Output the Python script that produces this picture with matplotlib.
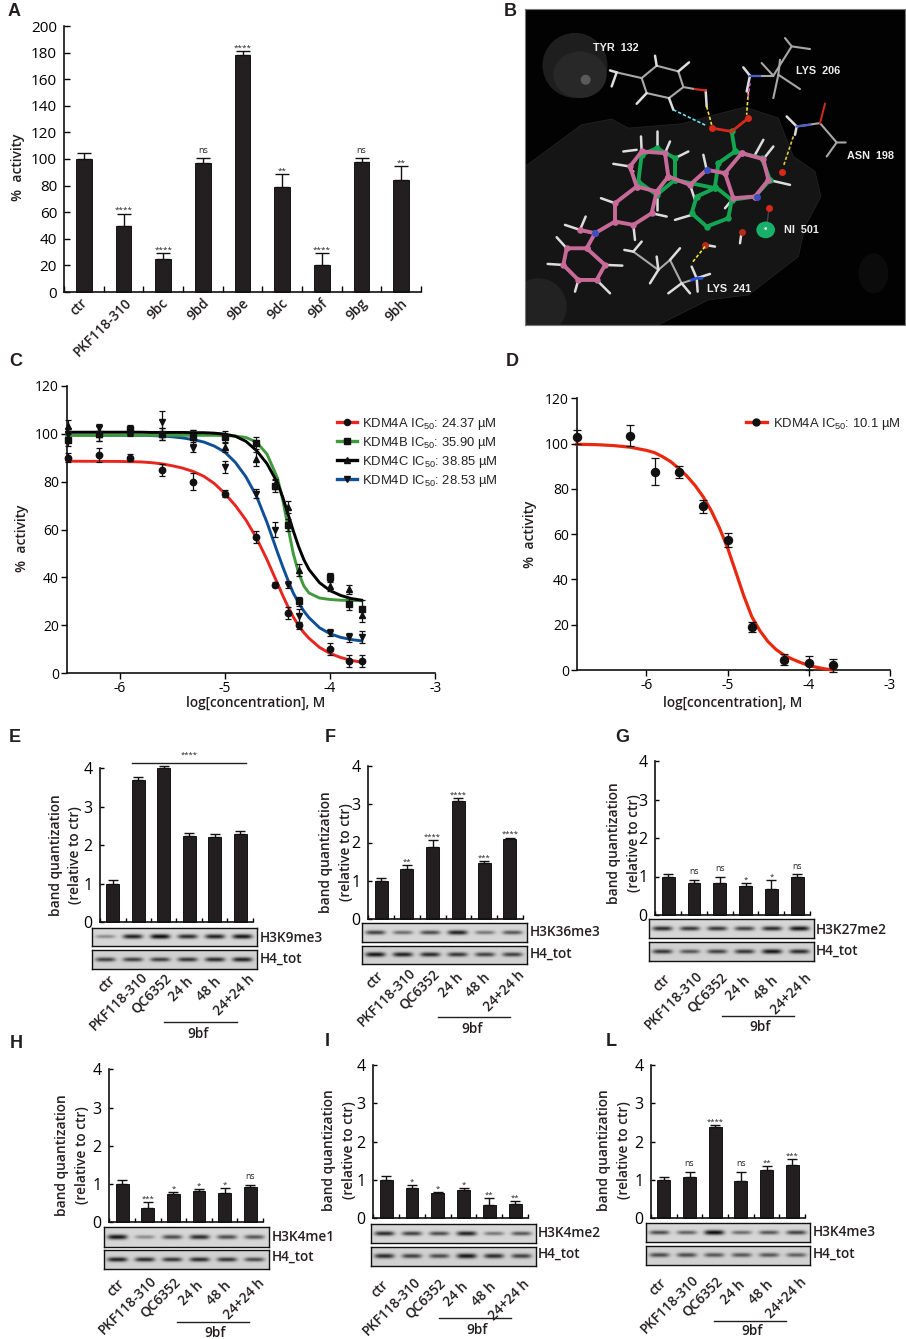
import matplotlib
matplotlib.use('Agg')
import matplotlib.pyplot as plt
import numpy as np
from matplotlib.lines import Line2D
from matplotlib.patches import Ellipse, Polygon

W, H = 906, 1339
plt.rcParams['font.family'] = ['Open Sans', 'DejaVu Sans']
plt.rcParams['font.weight'] = 'medium'
plt.rcParams['mathtext.fontset'] = 'custom'
plt.rcParams['mathtext.rm'] = 'Liberation Sans'
plt.rcParams['mathtext.default'] = 'rm'
plt.rcParams['text.color'] = '#231f20'

# panel A
a_names = ['ctr', 'PKF118-310', '9bc', '9bd', '9be', '9dc', '9bf', '9bg', '9bh']
a_vals = [100, 50, 25, 97, 178, 79, 20, 98, 84]
a_errs = [4.5, 9, 4, 3.5, 3.5, 10, 9, 2.5, 11]
a_sig = ['', '****', '****', 'ns', '****', '**', '****', 'ns', '**']

# panel C, points
c_x = [-6.49, -6.2, -5.9, -5.6, -5.3, -5.0, -4.7, -4.52, -4.4, -4.3, -4.0, -3.82, -3.7]
kdm4a_y = [90, 91, 90, 85, 80, 75, 57, 37, 25, 20, 10, 5, 5]
kdm4a_e = [2, 3, 1.5, 2.5, 3.5, 1.5, 2.5, 1, 2.5, 1.5, 2.5, 2.5, 2.5]
kdm4b_y = [97.5, 100, 102, 100, 98.5, 98.5, 96, 78, 62, 30, 40, 29, 27]
kdm4b_e = [2.5, 3, 1.5, 2.5, 3, 2.5, 2.5, 2.5, 2.5, 2, 2, 2.5, 3.5]
kdm4c_y = [103, 100, 101, 100, 99, 94.5, 89.5, 79, 69.5, 43, 36.5, 35, 24.5]
kdm4c_e = [2.5, 3, 1.5, 2.5, 2.5, 2, 3, 2, 2.5, 2.5, 2, 2, 3]
kdm4d_y = [100, 102.5, 100.5, 105, 94, 86, 75, 60, 37, 24, 17, 15, 15]
kdm4d_e = [2.5, 1.5, 1.5, 4.5, 1.5, 2.5, 2, 3, 1.5, 3, 1.5, 2, 2.5]

# panel C, fitted curves
fit_x = [-6.5, -6.0, -5.8, -5.7, -5.6, -5.5, -5.4, -5.3, -5.2, -5.1, -5.0, -4.9, -4.8, -4.7, -4.6,
         -4.5, -4.45, -4.4, -4.35, -4.3, -4.25, -4.2, -4.1, -4.0, -3.9, -3.8, -3.7]
fit_a = [88.5, 88.4, 88.2, 87.9, 87.4, 86.6, 85.6, 84.2, 82.2, 79.2, 75, 70, 64, 56.5, 47.5,
         37.5, 32.5, 27.8, 23.5, 20, 17, 14.6, 10.8, 8.3, 6.6, 5.4, 4.6]
fit_b = [99.3, 99.3, 99.3, 99.3, 99.3, 99.3, 99.3, 99.3, 99.3, 99.3, 99.2, 99, 98.4, 96.5, 91.5,
         81.5, 72.5, 61, 50, 42, 36.5, 33.5, 31.4, 30.8, 30.5, 30.4, 30.3]
fit_c = [100.6, 100.6, 100.6, 100.5, 100.5, 100.5, 100.5, 100.4, 100.4, 100.2, 99.8, 98.9, 96.8, 93, 87.5,
         79.5, 73.5, 66.5, 59.5, 53, 47.5, 43.3, 37.8, 34.5, 32.5, 31.2, 30.5]
fit_d = [99.4, 99.3, 99.3, 99.2, 99, 98.7, 98.2, 97.5, 96.5, 94.8, 92.3, 88, 82, 74, 63,
         50.5, 44.5, 38.8, 33.5, 29.5, 26, 23.2, 19, 16.5, 15, 14.1, 13.5]

# panel D
d_x = [-6.86, -6.2, -5.9, -5.6, -5.3, -5.0, -4.7, -4.3, -4.0, -3.7]
d_y = [103, 103.5, 87.5, 87.5, 72.3, 57.5, 19, 4.5, 3, 2]
d_e = [3, 4.5, 6, 2.5, 2.8, 3.2, 2.2, 2.5, 3, 3]
d_fit_x = [-6.86, -6.6, -6.4, -6.2, -6.0, -5.9, -5.8, -5.7, -5.6, -5.5, -5.4, -5.3, -5.2, -5.1,
           -5.0, -4.9, -4.8, -4.7, -4.6, -4.5, -4.4, -4.3, -4.2, -4.1, -4.0, -3.9, -3.8, -3.7]
d_fit_y = [99.7, 99.5, 99.1, 98.4, 97, 96, 94.2, 92, 89, 85.6, 81.5, 76.5, 70.3, 62.8,
           54, 43.5, 32.8, 23.5, 17.3, 12.5, 9, 6.5, 4.8, 3.3, 2, 1.2, 0.5, 0]

# western blot panels
wb_names = ['ctr', 'PKF118-310', 'QC6352', '24 h', '48 h', '24+24 h']

e_vals = [1.0, 3.7, 4.02, 2.24, 2.22, 2.3]
e_errs = [0.1, 0.08, 0.03, 0.09, 0.07, 0.07]
e_sig = ['', '', '', '', '', '']
e_bands = [0.35, 0.85, 0.95, 0.8, 0.85, 0.9]
e_h4 = [0.7, 0.7, 0.7, 0.75, 0.8, 0.85]

f_vals = [1.0, 1.3, 1.87, 3.08, 1.46, 2.08]
f_errs = [0.07, 0.12, 0.2, 0.07, 0.07, 0.05]
f_sig = ['', '**', '****', '****', '***', '****']
f_bands = [0.7, 0.5, 0.65, 0.85, 0.45, 0.6]
f_h4 = [0.9, 0.85, 0.8, 0.75, 0.7, 0.7]

g_vals = [1.0, 0.84, 0.82, 0.75, 0.68, 1.0]
g_errs = [0.06, 0.08, 0.17, 0.08, 0.24, 0.06]
g_sig = ['', 'ns', 'ns', '*', '*', 'ns']
g_bands = [0.8, 0.75, 0.75, 0.7, 0.8, 0.9]
g_h4 = [0.75, 0.6, 0.7, 0.75, 0.9, 0.8]

h_vals = [1.0, 0.38, 0.73, 0.82, 0.77, 0.92]
h_errs = [0.1, 0.16, 0.07, 0.04, 0.12, 0.06]
h_sig = ['', '***', '*', '*', '*', 'ns']
h_bands = [0.9, 0.35, 0.65, 0.8, 0.65, 0.6]
h_h4 = [0.85, 0.8, 0.75, 0.8, 0.75, 0.65]

i_vals = [1.0, 0.78, 0.66, 0.74, 0.35, 0.38]
i_errs = [0.1, 0.08, 0.03, 0.06, 0.19, 0.06]
i_sig = ['', '*', '*', '*', '**', '**']
i_bands = [0.8, 0.7, 0.65, 0.85, 0.45, 0.6]
i_h4 = [0.8, 0.7, 0.65, 0.9, 0.8, 0.7]

l_vals = [1.0, 1.09, 2.39, 0.98, 1.27, 1.38]
l_errs = [0.07, 0.13, 0.05, 0.24, 0.09, 0.17]
l_sig = ['', 'ns', '****', 'ns', '**', '***']
l_bands = [0.65, 0.55, 0.95, 0.5, 0.6, 0.7]
l_h4 = [0.65, 0.65, 0.6, 0.6, 0.6, 0.55]

fig = plt.figure(figsize=(W / 100, H / 100), dpi=100, facecolor='white')


def px_axes(l, t, r, b):
    return fig.add_axes([l / W, 1 - b / H, (r - l) / W, (b - t) / H])


def ftext(x, y, s, **kw):
    kw.setdefault('ha', 'center')
    kw.setdefault('va', 'center')
    return fig.text(x / W, 1 - y / H, s, **kw)


def fline(x0, x1, y, lw=1.0, color='#231f20'):
    fig.add_artist(Line2D([x0 / W, x1 / W], [1 - y / H, 1 - y / H], color=color, lw=lw))


def clean(ax):
    ax.spines['top'].set_visible(False)
    ax.spines['right'].set_visible(False)
    ax.patch.set_alpha(0)
    for s in ax.spines.values():
        s.set_linewidth(1.2)
        s.set_color('#111111')


def bars(ax, vals, errs, sig, width, cap, sig_size, gap):
    n = len(vals)
    x = np.arange(n) + 0.5
    ax.bar(x, vals, width, color='#231f20', edgecolor='black', linewidth=0.6, clip_on=False)
    ax.errorbar(x, vals, yerr=[np.zeros(n), errs], fmt='none', ecolor='#111111',
                elinewidth=1.0, capsize=cap, capthick=1.0, clip_on=False)
    for xi, v, e, s in zip(x, vals, errs, sig):
        if s:
            # asterisks sit high in the em box, so they need less of a gap
            off = gap if s == 'ns' else gap - 3
            ax.annotate(s, (xi, v + e), xytext=(0, off), textcoords='offset points',
                        ha='center', va='bottom', fontsize=sig_size if s == 'ns' else sig_size - 0.6)
    ax.set_xlim(0, n)
    ax.set_xticks(np.arange(n + 1))
    ax.set_xticklabels([])


def blot(l, t, r, b, bands, bg):
    ax = px_axes(l, t, r, b)
    xs = np.linspace(0, len(bands), 240)
    ys = np.linspace(-1, 1, 40)
    xx, yy = np.meshgrid(xs, ys)
    img = np.full(xx.shape, bg)
    for i, s in enumerate(bands):
        img -= s * bg * np.exp(-((xx - i - 0.48) / 0.36) ** 4) * np.exp(-(yy / (0.16 + 0.1 * s)) ** 2)
    ax.imshow(img, cmap='gray', vmin=0, vmax=1, aspect='auto', interpolation='bilinear')
    ax.set_xticks([])
    ax.set_yticks([])
    for s in ax.spines.values():
        s.set_linewidth(1.0)
        s.set_color('#111111')


# panel A
ax = px_axes(64, 26, 421, 292)
clean(ax)
bars(ax, a_vals, a_errs, a_sig, 0.4, 4.7, 6.5, 2.5)
ax.set_ylim(0, 200)
ax.set_yticks(np.arange(0, 201, 20))
ax.tick_params(axis='y', direction='in', length=4, width=1, pad=5, labelsize=11)
ax.tick_params(axis='x', direction='in', length=4, width=1)
a_px = [85, 129.5, 166, 207.5, 246.5, 286, 326, 365, 405]
for xp, s in zip(a_px, a_names):
    ftext(xp, 301, s, rotation=45, rotation_mode='anchor', ha='right', va='center',
          fontsize=9.8, fontweight='semibold')
ftext(18, 167, '%  activity', rotation=90, fontsize=10, fontweight='semibold')

# panel B, docking pose drawn in crop coordinates
axb = px_axes(525, 9, 905, 325)
axb.set_facecolor('#020202')
axb.set_xlim(30, 1170)
axb.set_ylim(975, 28)
axb.set_xticks([])
axb.set_yticks([])
for s in axb.spines.values():
    s.set_color('#777777')
    s.set_linewidth(0.8)
surface = [(30, 500), (200, 375), (290, 358), (340, 385), (500, 372), (600, 345), (690, 322),
           (790, 355), (835, 470), (900, 515), (918, 590), (870, 680), (850, 770), (700, 885),
           (580, 900), (430, 975), (30, 975)]
axb.add_patch(Polygon(surface, closed=True, fc='#151515', ec='#222222', lw=0.6))
axb.add_patch(Ellipse((180, 197), 195, 195, fc='#1e1e1e', ec='none'))
axb.add_patch(Ellipse((195, 225), 160, 140, fc='#282828', ec='none'))
axb.add_patch(Ellipse((212, 240), 30, 30, fc='#5a5a5a', ec='none'))
axb.add_patch(Ellipse((70, 920), 170, 170, fc='#222222', ec='none'))
axb.add_patch(Ellipse((1075, 820), 90, 120, fc='#0b0b0b', ec='none'))

gray_sticks = [
    [(380, 235), (425, 198), (490, 215), (505, 262), (462, 295), (395, 280), (380, 235), (305, 218)],
    [(505, 262), (540, 268)],
    [(775, 228), (705, 228)], [(775, 228), (830, 140), (885, 148)], [(830, 140), (810, 115)],
    [(795, 180), (790, 225), (775, 295)], [(790, 225), (855, 268)], [(775, 228), (740, 190)],
    [(845, 380), (915, 370), (965, 428), (992, 428)], [(965, 428), (935, 470)],
    [(355, 755), (430, 810), (465, 780), (500, 850), (530, 840)],
]
white_sticks = [
    [(305, 218), (285, 212)], [(305, 218), (290, 260)], [(395, 280), (365, 312)],
    [(425, 198), (420, 168)], [(490, 215), (522, 188)], [(462, 295), (475, 330)], [(572, 272), (575, 320)],
    [(705, 228), (685, 203)], [(705, 228), (695, 275)], [(845, 380), (815, 350)], [(845, 380), (840, 405)],
    [(355, 755), (328, 750)], [(355, 755), (380, 725)], [(430, 810), (405, 850)], [(430, 810), (425, 770)],
    [(465, 780), (495, 745)], [(500, 850), (460, 880)], [(500, 850), (525, 880)],
    [(545, 835), (585, 822)], [(545, 835), (548, 875)], [(545, 835), (530, 800)],
    [(380, 455), (378, 410)], [(450, 460), (465, 425)], [(425, 445), (425, 395)], [(345, 500), (295, 492)],
    [(365, 450), (325, 455)], [(480, 475), (520, 455)], [(345, 510), (355, 515)], [(300, 610), (258, 595)],
    [(355, 675), (360, 720)], [(410, 640), (455, 650)], [(425, 585), (425, 630)], [(195, 690), (150, 675)],
    [(195, 690), (212, 650)], [(155, 745), (125, 712)], [(145, 795), (98, 792)], [(190, 840), (180, 875)],
    [(245, 840), (285, 880)], [(270, 795), (322, 797)], [(575, 510), (565, 465)], [(525, 555), (540, 600)],
    [(720, 465), (745, 420)], [(745, 478), (775, 440)], [(760, 540), (825, 555)], [(655, 595), (630, 625)],
    [(530, 645), (480, 660)], [(680, 695), (675, 730)], [(570, 735), (600, 740)],
]
for seg in gray_sticks:
    axb.plot(*zip(*seg), color='#a8a8a8', lw=1.5, solid_capstyle='round', zorder=3)
for seg in white_sticks:
    axb.plot(*zip(*seg), color='#dddddd', lw=1.8, solid_capstyle='round', zorder=3)

green_mol = [
    [(370, 545), (380, 465), (425, 445), (480, 475), (480, 540), (425, 585), (370, 545)],
    [(480, 540), (600, 565)],
    [(650, 395), (660, 455), (740, 475), (765, 540), (720, 590), (650, 600), (600, 560), (610, 490), (660, 455)],
    [(650, 600), (640, 655), (575, 680), (530, 640), (545, 590), (600, 565)],
]
pink_mol = [
    [(680, 460), (745, 478), (760, 540), (720, 590), (655, 595), (630, 520), (680, 460)],
    [(630, 520), (575, 510), (525, 555), (460, 530), (425, 575), (365, 560), (345, 500), (380, 455), (450, 460), (460, 530)],
    [(365, 560), (300, 610), (300, 665), (355, 675), (410, 640), (425, 575)],
    [(300, 665), (240, 700), (195, 690)],
    [(240, 700), (215, 745), (155, 745), (145, 795), (190, 840), (245, 840), (270, 795), (215, 745)],
]
for seg in green_mol:
    xs, ys = zip(*seg)
    axb.plot(xs, ys, color='#14a552', lw=2.8, zorder=4, marker='o', ms=3.6)
for seg in pink_mol:
    xs, ys = zip(*seg)
    axb.plot(xs, ys, color='#c86a98', lw=2.8, zorder=5, marker='o', ms=3.6)

hetero = [((590, 385), '#d62a1c'), ((700, 355), '#d62a1c'), ((570, 735), '#b52a1c'), ((680, 695), '#b52a1c'),
          ((800, 515), '#d62a1c'), ((762, 625), '#d62a1c'), ((575, 510), '#3b4fc0'), ((240, 700), '#3b4fc0'),
          ((725, 590), '#3b4fc0')]
for (hx, hy), col in hetero:
    axb.plot(hx, hy, 'o', color=col, ms=4, zorder=6)
axb.plot([650, 590], [395, 385], color='#d62a1c', lw=2, zorder=4)
axb.plot([650, 700], [395, 355], color='#d62a1c', lw=2, zorder=4)
axb.plot([915, 930], [370, 312], color='#d62a1c', lw=1.4, zorder=3)
axb.plot([845, 885], [380, 375], color='#4a62c8', lw=1.6, zorder=4)
axb.plot([705, 735], [228, 228], color='#4a62c8', lw=1.6, zorder=4)
axb.plot([530, 545, 560], [840, 835, 835], color='#2a50e0', lw=2, zorder=4)
axb.plot([540, 572], [268, 272], color='#d62a1c', lw=1.6, zorder=4)

hbonds = [((575, 320), (590, 375), '#f2e23a'), ((700, 275), (695, 345), '#f2e23a'), ((835, 410), (805, 500), '#d8c83a'),
          ((570, 740), (530, 790), '#f2e23a'), ((475, 330), (575, 378), '#6fe0ef')]
for p0, p1, col in hbonds:
    axb.plot([p0[0], p1[0]], [p0[1], p1[1]], color=col, lw=1.2, ls=(0, (2, 1.2)), zorder=7)
axb.plot([705, 698], [250, 300], color='#e060d0', lw=1.2, ls=(0, (2, 1.2)), zorder=7)

axb.plot([762, 755], [625, 680], color='#444444', lw=1, zorder=5)
axb.add_patch(Ellipse((752, 690), 56, 50, fc='#19b06a', ec='none', zorder=6))
axb.add_patch(Ellipse((752, 686), 8, 8, fc='#e8fff2', ec='none', zorder=7))

res_font = dict(color='#eeeeee', family='Liberation Sans', fontweight='bold', fontsize=7.8, ha='left', va='center')
axb.text(235, 145, 'TYR  132', **res_font)
axb.text(842, 215, 'LYS  206', **res_font)
axb.text(997, 470, 'ASN  198', **res_font)
axb.text(808, 690, 'NI  501', **res_font)
axb.text(575, 868, 'LYS  241', **res_font)

# panel C
ax = px_axes(67, 385.7, 435.3, 673.3)
clean(ax)
series_c = [
    (fit_a, kdm4a_y, kdm4a_e, '#e8251f', 'o'),
    (fit_d, kdm4d_y, kdm4d_e, '#0f4f96', 'v'),
    (fit_b, kdm4b_y, kdm4b_e, '#3f9a3c', 's'),
    (fit_c, kdm4c_y, kdm4c_e, '#000000', '^'),
]
for fit, y, e, col, mk in series_c:
    ax.plot(fit_x, fit, color=col, lw=2.1, zorder=3, clip_on=False, solid_joinstyle='round')
for fit, y, e, col, mk in series_c:
    ax.errorbar(c_x, y, yerr=e, fmt=mk, color='#111111', ms=4.6, elinewidth=0.9,
                capsize=2.2, capthick=0.9, zorder=4, clip_on=False)
ax.set_xlim(-6.5, -3)
ax.set_ylim(0, 120)
ax.set_xticks([-6, -5, -4, -3])
ax.set_xticklabels(['-6', '-5', '-4', '-3'])
ax.set_yticks(np.arange(0, 121, 20))
ax.tick_params(axis='both', direction='out', length=4.2, width=1, labelsize=10, pad=1.5)
ftext(256, 703, 'log[concentration], M', fontsize=9.8, fontweight='semibold')
ftext(22, 538, '%  activity', rotation=90, fontsize=10, fontweight='semibold')
leg_c = [
    (Line2D([], [], color='#e8251f', lw=2.4, marker='o', mfc='#111111', mec='#111111', ms=4.4), 'KDM4A IC$_{50}$: 24.37 µM'),
    (Line2D([], [], color='#3f9a3c', lw=2.4, marker='s', mfc='#111111', mec='#111111', ms=4.4), 'KDM4B IC$_{50}$: 35.90 µM'),
    (Line2D([], [], color='#000000', lw=2.4, marker='^', mfc='#111111', mec='#111111', ms=4.4), 'KDM4C IC$_{50}$: 38.85 µM'),
    (Line2D([], [], color='#0f4f96', lw=2.4, marker='v', mfc='#111111', mec='#111111', ms=4.4), 'KDM4D IC$_{50}$: 28.53 µM'),
]
ax.legend([h for h, _ in leg_c], [t for _, t in leg_c], loc='upper left',
          bbox_to_anchor=(337 / W, 1 - 416 / H), bbox_transform=fig.transFigure, frameon=False,
          prop={'family': 'Liberation Sans', 'size': 9.4}, labelspacing=0.22, handlelength=1.5,
          handletextpad=0.4, borderpad=0, borderaxespad=0, labelcolor='#222222')

# panel D
ax = px_axes(576.7, 398.3, 889.7, 670)
clean(ax)
ax.plot(d_fit_x, d_fit_y, color='#e8290f', lw=2.3, zorder=3, clip_on=False, solid_joinstyle='round')
ax.errorbar(d_x, d_y, yerr=d_e, fmt='o', color='#111111', ms=5.8, elinewidth=0.9,
            capsize=2.8, capthick=0.9, zorder=4, clip_on=False)
ax.set_xlim(-6.86, -3)
ax.set_ylim(0, 120)
ax.set_xticks([-6, -5, -4, -3])
ax.set_xticklabels(['-6', '-5', '-4', '-3'])
ax.set_yticks(np.arange(0, 121, 20))
ax.tick_params(axis='both', direction='out', length=4.2, width=1, labelsize=10, pad=1.5)
ftext(733, 703, 'log[concentration], M', fontsize=9.8, fontweight='semibold')
ftext(530, 534, '%  activity', rotation=90, fontsize=10, fontweight='semibold')
ax.legend([Line2D([], [], color='#e8290f', lw=2.4, marker='o', mfc='#111111', mec='#111111', ms=5)],
          ['KDM4A IC$_{50}$: 10.1 µM'], loc='upper left', bbox_to_anchor=(746 / W, 1 - 416 / H),
          bbox_transform=fig.transFigure, frameon=False, prop={'family': 'Liberation Sans', 'size': 9.4},
          handlelength=1.6, handletextpad=0.45, borderpad=0, borderaxespad=0, labelcolor='#222222')

# panels E-L: axes box, blot boxes, label x, text rows
wb_layout = [
    dict(vals=e_vals, errs=e_errs, sig=e_sig, bands=e_bands, h4=e_h4, mark='H3K9me3',
         box=(100, 768.3, 253, 922.3), blot1=(92, 927.7, 256.7, 946.3), blot2=(92, 950.3, 256.7, 969.3),
         lab_x=260, lab_y=(937.5, 959), yl=(55, 74, 855), end_y=977, line=(164, 236.7, 1021.7), t9=(198, 1034)),
    dict(vals=f_vals, errs=f_errs, sig=f_sig, bands=f_bands, h4=f_h4, mark='H3K36me3',
         box=(368.3, 765.7, 522.7, 919.3), blot1=(362, 923.3, 526.7, 942.3), blot2=(362, 945.7, 526.7, 964.3),
         lab_x=530, lab_y=(932.5, 954), yl=(325, 345, 851.7), end_y=973, line=(437.7, 510, 1016.7), t9=(472, 1029)),
    dict(vals=g_vals, errs=g_errs, sig=g_sig, bands=g_bands, h4=g_h4, mark='H3K27me2',
         box=(655.3, 761, 810, 915), blot1=(649.3, 919.3, 814, 938.3), blot2=(649.3, 942, 814, 960.7),
         lab_x=816, lab_y=(930, 951), yl=(612.7, 632.7, 843), end_y=976, line=(722, 794, 1015.7), t9=(760, 1027)),
    dict(vals=h_vals, errs=h_errs, sig=h_sig, bands=h_bands, h4=h_h4, mark='H3K4me1',
         box=(109.3, 1069.3, 263, 1222.3), blot1=(104, 1227.3, 268.7, 1246.7), blot2=(104, 1250, 268.7, 1269),
         lab_x=271.7, lab_y=(1236.7, 1257), yl=(61, 81, 1155), end_y=1281, line=(176.7, 249, 1321.7), t9=(215, 1332.7)),
    dict(vals=i_vals, errs=i_errs, sig=i_sig, bands=i_bands, h4=i_h4, mark='H3K4me2',
         box=(373.3, 1065, 528, 1218.3), blot1=(371, 1224.3, 536, 1243.3), blot2=(371, 1246.7, 536, 1266),
         lab_x=538, lab_y=(1232.7, 1254), yl=(328, 348, 1150), end_y=1282, line=(439, 511, 1318.3), t9=(476.7, 1330)),
    dict(vals=l_vals, errs=l_errs, sig=l_sig, bands=l_bands, h4=l_h4, mark='H3K4me3',
         box=(651, 1065, 805, 1218.3), blot1=(646, 1223.3, 810.3, 1242.3), blot2=(646, 1246, 810.3, 1265.3),
         lab_x=812.7, lab_y=(1232.3, 1253.3), yl=(602.7, 622.7, 1150), end_y=1280, line=(713.7, 786, 1320.7), t9=(752, 1331)),
]
end_dx = [0, 7, 5, 2, 4, 12]
end_dy = [1, -2, -1, 3, 3, 0]

for p in wb_layout:
    l, t, r, b = p['box']
    ax = px_axes(l, t, r, b)
    clean(ax)
    bars(ax, p['vals'], p['errs'], p['sig'], 0.5, 3.4, 6.2, 2.5)
    ax.set_ylim(0, 4)
    ax.set_yticks([0, 1, 2, 3, 4])
    ax.tick_params(axis='y', direction='in', length=3, width=1, pad=5.5, labelsize=11.5)
    ax.tick_params(axis='x', direction='in', length=3, width=1)
    blot(*p['blot1'], p['bands'], 0.84)
    blot(*p['blot2'], p['h4'], 0.82)
    ftext(p['lab_x'], p['lab_y'][0], p['mark'], ha='left', fontsize=9.8, fontweight='semibold')
    ftext(p['lab_x'], p['lab_y'][1], 'H4_tot', ha='left', fontsize=9.8, fontweight='semibold')
    ftext(p['yl'][0] + 1, p['yl'][2], 'band quantization', rotation=90, fontsize=9.9, fontweight='semibold')
    ftext(p['yl'][1] + 1, p['yl'][2], '(relative to ctr)', rotation=90, fontsize=9.9, fontweight='semibold')
    step = (r - l) / 6
    for i, s in enumerate(wb_names):
        xp = l + (i + 0.5) * step + end_dx[i]
        ftext(xp, p['end_y'] + end_dy[i], s, rotation=45, rotation_mode='anchor',
              ha='right', va='center', fontsize=9.8, fontweight='semibold')
    fline(p['line'][0], p['line'][1], p['line'][2])
    ftext(p['t9'][0], p['t9'][1], '9bf', fontsize=9.8, fontweight='semibold')

fline(131.7, 246, 762.7)
ftext(189, 755, '****', fontsize=5.6)

# panel letters
panel_letters = ['A', 'B', 'C', 'D', 'E', 'F', 'G', 'H', 'I', 'L']
letter_pos = [(14, 11), (510, 11), (16, 361), (512, 361), (15, 738), (330, 738), (622, 738),
              (16, 1044), (327, 1042), (611, 1042)]
for s, (xp, yp) in zip(panel_letters, letter_pos):
    ftext(xp, yp, s, fontsize=13, fontweight='bold', family='Liberation Sans')

fig.savefig('out.png', dpi=100, facecolor='white')
